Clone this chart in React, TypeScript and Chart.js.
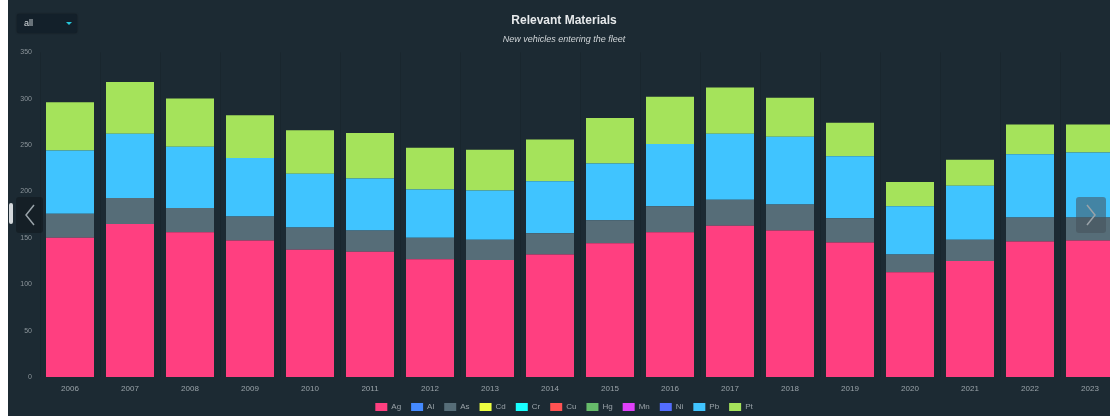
import React, { useEffect, useRef } from "react";
import { Chart, registerables } from "chart.js";

Chart.register(...registerables);

const years = ["2006","2007","2008","2009","2010","2011","2012","2013","2014","2015","2016","2017","2018","2019","2020","2021","2022","2023"];
const materials = ["Ag","Al","As","Cd","Cr","Cu","Hg","Mn","Ni","Pb","Pt"];
const materialColors = ["#ff3f80","#448aff","#566d78","#eeff41","#18ffff","#ff5252","#66bb6a","#e040fb","#536dfe","#40c4ff","#a5e35b"];

const agValues = [150,165,156,147,137,135,127,126,132,144,156,163,158,145,113,125,146,147];
const asValues = [26,28,26,26,24,23,23,22,23,25,28,28,28,26,19,23,26,25];
const pbValues = [68,69,66,63,58,56,52,53,56,61,67,71,73,67,52,58,68,70];
const ptValues = [52,56,52,46,47,49,45,44,45,49,51,50,42,36,26,28,32,30];
const zeroValues = years.map(() => 0);

const yTicks = [0,50,100,150,200,250,300,350];

const titleText = "Relevant Materials";
const subtitleText = "New vehicles entering the fleet";

function valuesFor(name: string): number[] {
  if (name === "Ag") return agValues;
  if (name === "As") return asValues;
  if (name === "Pb") return pbValues;
  if (name === "Pt") return ptValues;
  return zeroValues;
}

const BG = "#1c2a33";

const legendHeightPlugin = {
  id: "legendHeight",
  beforeLayout(chart: any) {
    const lg = chart.legend;
    if (lg && !lg.__patched) {
      const orig = lg.fit;
      lg.fit = function () {
        orig.call(this);
        this.height = 23;
      };
      lg.__patched = true;
    }
  },
};

export default function App() {
  const ref = useRef<HTMLCanvasElement>(null);
  useEffect(() => {
    if (!ref.current) return;
    Chart.defaults.font.family = "'Liberation Sans', Arial, sans-serif";
    const chart = new Chart(ref.current, {
      type: "bar",
      data: {
        labels: years,
        datasets: materials.map((m, i) => ({
          label: m,
          data: valuesFor(m),
          backgroundColor: materialColors[i],
          borderWidth: 0,
          categoryPercentage: 0.8,
          barPercentage: 1.0,
        })),
      },
      options: {
        animation: false,
        responsive: false,
        layout: { padding: { left: 0, right: 2, top: 0, bottom: 0 } },
        plugins: {
          title: {
            display: true,
            text: titleText,
            color: "#e6e9eb",
            font: { size: 12, weight: "bold" },
            padding: { top: 13, bottom: 4 },
          },
          subtitle: {
            display: true,
            text: subtitleText,
            color: "#d0d5d8",
            font: { size: 9, style: "italic" },
            padding: { top: 3, bottom: 7 },
          },
          legend: {
            position: "bottom",
            labels: {
              color: "#9aa3a9",
              font: { size: 8 },
              boxWidth: 12,
              boxHeight: 8,
              padding: 10,
            },
          },
          tooltip: { enabled: false },
        },
        scales: {
          x: {
            stacked: true,
            afterFit: (s: any) => { s.height = 16; },
            grid: { display: true, color: "rgba(0,0,0,0.09)", drawTicks: false },
            border: { display: false },
            ticks: { color: "#9aa3a9", font: { size: 8 }, padding: 7, maxRotation: 0 },
          },
          y: {
            stacked: true,
            min: 0,
            max: 350,
            afterBuildTicks: (s: any) => { s.ticks = yTicks.map((v) => ({ value: v })); },
            afterFit: (s: any) => { s.width = 32; },
            grid: { display: false, drawTicks: false },
            border: { display: false },
            ticks: { color: "#8c959b", font: { size: 7 }, padding: 8 },
          },
        },
      },
      plugins: [legendHeightPlugin],
    } as any);
    return () => chart.destroy();
  }, []);

  const chevron = (dir: "left" | "right") => (
    <svg width="14" height="24" viewBox="0 0 14 24" style={{ display: "block" }}>
      <polyline
        points={dir === "left" ? "11,2 3,12 11,22" : "3,2 11,12 3,22"}
        fill="none"
        stroke="#9aa3a9"
        strokeWidth="1.5"
      />
    </svg>
  );

  return (
    <div style={{ position: "fixed", left: 8, top: 0, width: 1102, height: 416, overflow: "hidden", background: BG }}>
      <canvas ref={ref} width={1114} height={416} style={{ display: "block" }} />
      <div style={{ position: "absolute", left: 9, top: 14, width: 60, height: 19, background: "#13202a", borderRadius: 2, boxShadow: "0 0 2px rgba(0,0,0,0.5)" }}>
        <span style={{ position: "absolute", left: 7, top: 4, fontFamily: "'Liberation Sans', Arial", fontSize: 9, color: "#d8dde0" }}>all</span>
        <span style={{ position: "absolute", left: 49, top: 8, width: 0, height: 0, borderLeft: "3px solid transparent", borderRight: "3px solid transparent", borderTop: "3px solid #26c6da" }} />
      </div>
      <div style={{ position: "absolute", left: 1, top: 203, width: 4, height: 21, background: "#d5d9dc", borderRadius: 2 }} />
      <div style={{ position: "absolute", left: 8, top: 197, width: 27, height: 36, background: "rgba(0,0,0,0.25)", borderRadius: 3, display: "flex", alignItems: "center", justifyContent: "center" }}>
        {chevron("left")}
      </div>
      <div style={{ position: "absolute", left: 1068, top: 197, width: 30, height: 36, background: "rgba(70,80,90,0.55)", borderRadius: 3, display: "flex", alignItems: "center", justifyContent: "center" }}>
        {chevron("right")}
      </div>
    </div>
  );
}
